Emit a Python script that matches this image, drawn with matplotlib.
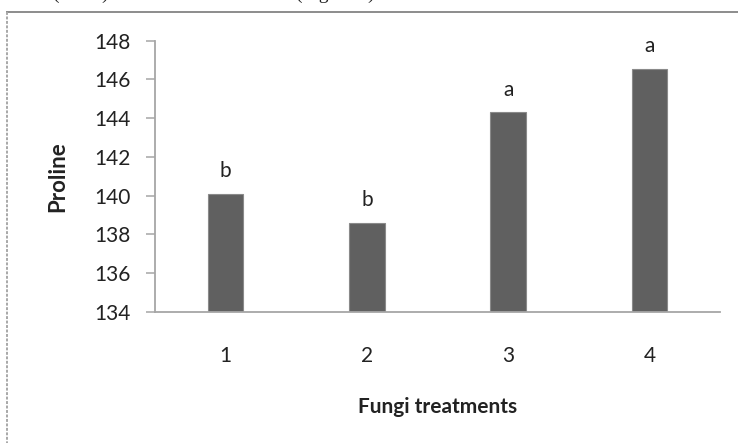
import matplotlib
matplotlib.use("Agg")
import matplotlib.pyplot as plt
from matplotlib.lines import Line2D

# Proline content per fungal treatment, with significance letters
treatments = ["1", "2", "3", "4"]
proline = [140.1, 138.6, 144.3, 146.55]
groups = ["b", "b", "a", "a"]
y_ticks = [134, 136, 138, 140, 142, 144, 146, 148]

W, H = 738, 443
fig = plt.figure(figsize=(W / 100, H / 100), dpi=100)
fig.patch.set_facecolor("white")

def px(x, y):
    """Convert pixel coordinates (from top-left) to figure fraction."""
    return x / W, 1 - y / H

# Running text line from the page above the chart (only descenders reach the canvas)
tx, ty = px(53, -1.0)
fig.text(tx, ty, "(AMF) treatments and control", family="Liberation Serif",
         fontsize=14, va="baseline", ha="left", color="#222222")
tx, ty = px(296, -1.0)
fig.text(tx, ty, "(Figure 4).", family="Liberation Serif",
         fontsize=14, va="baseline", ha="left", color="#222222")

# Chart frame (top and left edges visible)
x0, y0 = px(7, 12)
fig.add_artist(Line2D([x0, 1.01], [y0, y0], transform=fig.transFigure,
                      color="#8c8c8c", lw=1.4))
fig.add_artist(Line2D([x0, x0], [y0, -0.01], transform=fig.transFigure,
                      color="#a8a8a8", lw=1.4, ls=(0, (1.5, 0.8))))

left, right = 155 / W, 720 / W
bottom, top = 1 - 311.7 / H, 1 - 40.7 / H
ax = fig.add_axes([left, bottom, right - left, top - bottom])

font = "Lato"
x = list(range(1, len(treatments) + 1))
bars = ax.bar(x, proline, width=0.25, bottom=0, color="#606060",
              edgecolor="#8a8a8a", linewidth=0.8, zorder=2)

for xi, v, g in zip(x, proline, groups):
    ax.annotate(g, (xi, v), xytext=(0, 9), textcoords="offset points",
                ha="center", va="bottom", fontsize=15, family=font,
                color="#222222")

ax.set_xlim(0.5, 4.5)
ax.set_ylim(134, 148)
ax.set_yticks(y_ticks)
ax.set_xticks(x)
ax.set_xticklabels(treatments)

for s in ["top", "right"]:
    ax.spines[s].set_visible(False)
for s in ["left", "bottom"]:
    ax.spines[s].set_color("#a6a6a6")
    ax.spines[s].set_linewidth(1.3)

ax.tick_params(axis="y", direction="out", length=6.5, width=1.1,
               color="#a6a6a6", pad=11, labelsize=15, labelcolor="#222222")
ax.tick_params(axis="x", length=0, pad=25, labelsize=15, labelcolor="#222222")
for lab in ax.get_xticklabels() + ax.get_yticklabels():
    lab.set_family(font)

ax.set_xlabel("Fungi treatments", family=font, fontsize=15,
              fontweight="bold", color="#222222", labelpad=22)
ax.set_ylabel("Proline", family=font, fontsize=16, fontweight="bold",
              color="#222222", labelpad=19)

fig.savefig("out.png", dpi=100, facecolor="white")
